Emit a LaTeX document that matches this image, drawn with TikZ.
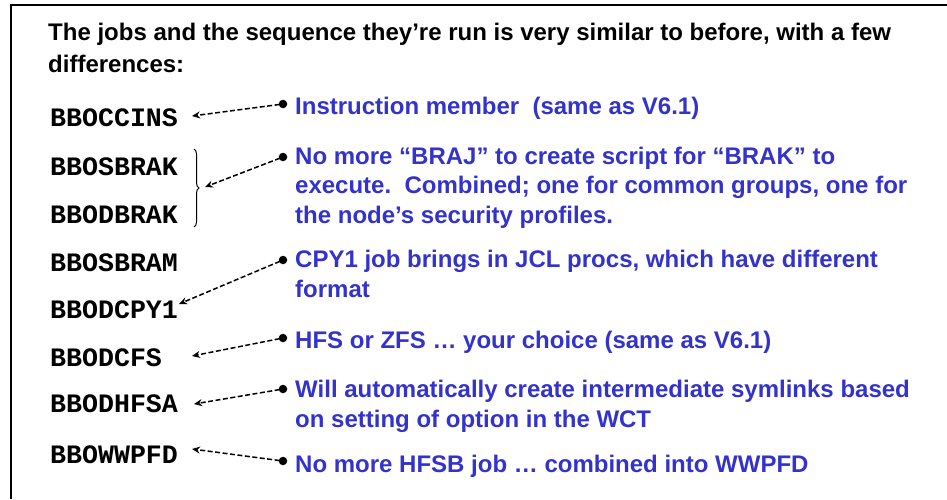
\documentclass[tikz,border=0pt]{standalone}
\usepackage{fontspec}
\setmainfont{Liberation Sans}
\newfontfamily\codefont{Liberation Mono}
\usetikzlibrary{arrows.meta,decorations.pathreplacing}
\definecolor{noteblue}{HTML}{3333CC}
\tikzset{
  titletext/.style={anchor=base west,inner sep=0pt,align=left,font=\fontsize{24}{32}\selectfont\bfseries},
  codetext/.style={anchor=base west,inner sep=0pt,font=\codefont\fontsize{26.6}{30}\selectfont\bfseries},
  notetext/.style={anchor=base west,inner sep=0pt,align=left,text=noteblue,font=\fontsize{24}{29.5}\selectfont\bfseries},
  notedot/.style={circle,fill=black,inner sep=0pt,minimum size=8.5pt},
  pointer/.style={line width=1.5pt,dash pattern=on 5pt off 2.5pt,-{Stealth[length=8pt,width=7pt]},shorten <=-1pt},
  framepart/.style={line width=1.5pt}
}
\begin{document}
\begin{tikzpicture}[x=1pt,y=-1pt]
\useasboundingbox (0,0) rectangle (947,499);
\draw[framepart] (11,499) -- (11,5) -- (947,5);
% base west of a multi-line node is the baseline of its last line
\node[titletext] (title) at (48,72) {The jobs and the sequence they’re run is very similar to before, with a few\\differences:};
% job names
\node[codetext] (c1) at (50,126) {BBOCCINS};
\node[codetext] (c2) at (50,175) {BBOSBRAK};
\node[codetext] (c3) at (50,223) {BBODBRAK};
\node[codetext] (c4) at (50,271) {BBOSBRAM};
\node[codetext] (c5) at (50,318) {BBODCPY1};
\node[codetext] (c6) at (50,366) {BBODCFS};
\node[codetext] (c7) at (50,412) {BBODHFSA};
\node[codetext] (c8) at (50,463) {BBOWWPFD};
% brace
\draw[line width=1pt,decorate,decoration={brace,amplitude=5pt}] (194,149) -- (194,227);
% notes
\node[notetext] (n1) at (295,114) {Instruction member\ \ (same as V6.1)};
\node[notetext] (n2) at (295,223) {No more “BRAJ” to create script for “BRAK” to\\execute.\ \ Combined; one for common groups, one for\\the node’s security profiles.};
\node[notetext] (n3) at (295,297) {CPY1 job brings in JCL procs, which have different\\format};
\node[notetext] (n4) at (295,348) {HFS or ZFS … your choice (same as V6.1)};
\node[notetext] (n5) at (295,427) {Will automatically create intermediate symlinks based\\on setting of option in the WCT};
\node[notetext] (n6) at (295,472) {No more HFSB job … combined into WWPFD};
% dots
\node[notedot] (d1) at (283,104) {};
\node[notedot] (d2) at (283,157) {};
\node[notedot] (d3) at (283,260) {};
\node[notedot] (d4) at (283,338) {};
\node[notedot] (d5) at (283,389) {};
\node[notedot] (d6) at (283,461) {};
% arrow targets
\coordinate (t1) at (192,116);
\coordinate (t2) at (205,187);
\coordinate (t3) at (179,304);
\coordinate (t4) at (192,356);
\coordinate (t5) at (194,404);
\coordinate (t6) at (192,449);
\draw[pointer] (d1) -- (t1);
\draw[pointer] (d2) -- (t2);
\draw[pointer] (d3) -- (t3);
\draw[pointer] (d4) -- (t4);
\draw[pointer] (d5) -- (t5);
\draw[pointer] (d6) -- (t6);
\end{tikzpicture}
\end{document}
